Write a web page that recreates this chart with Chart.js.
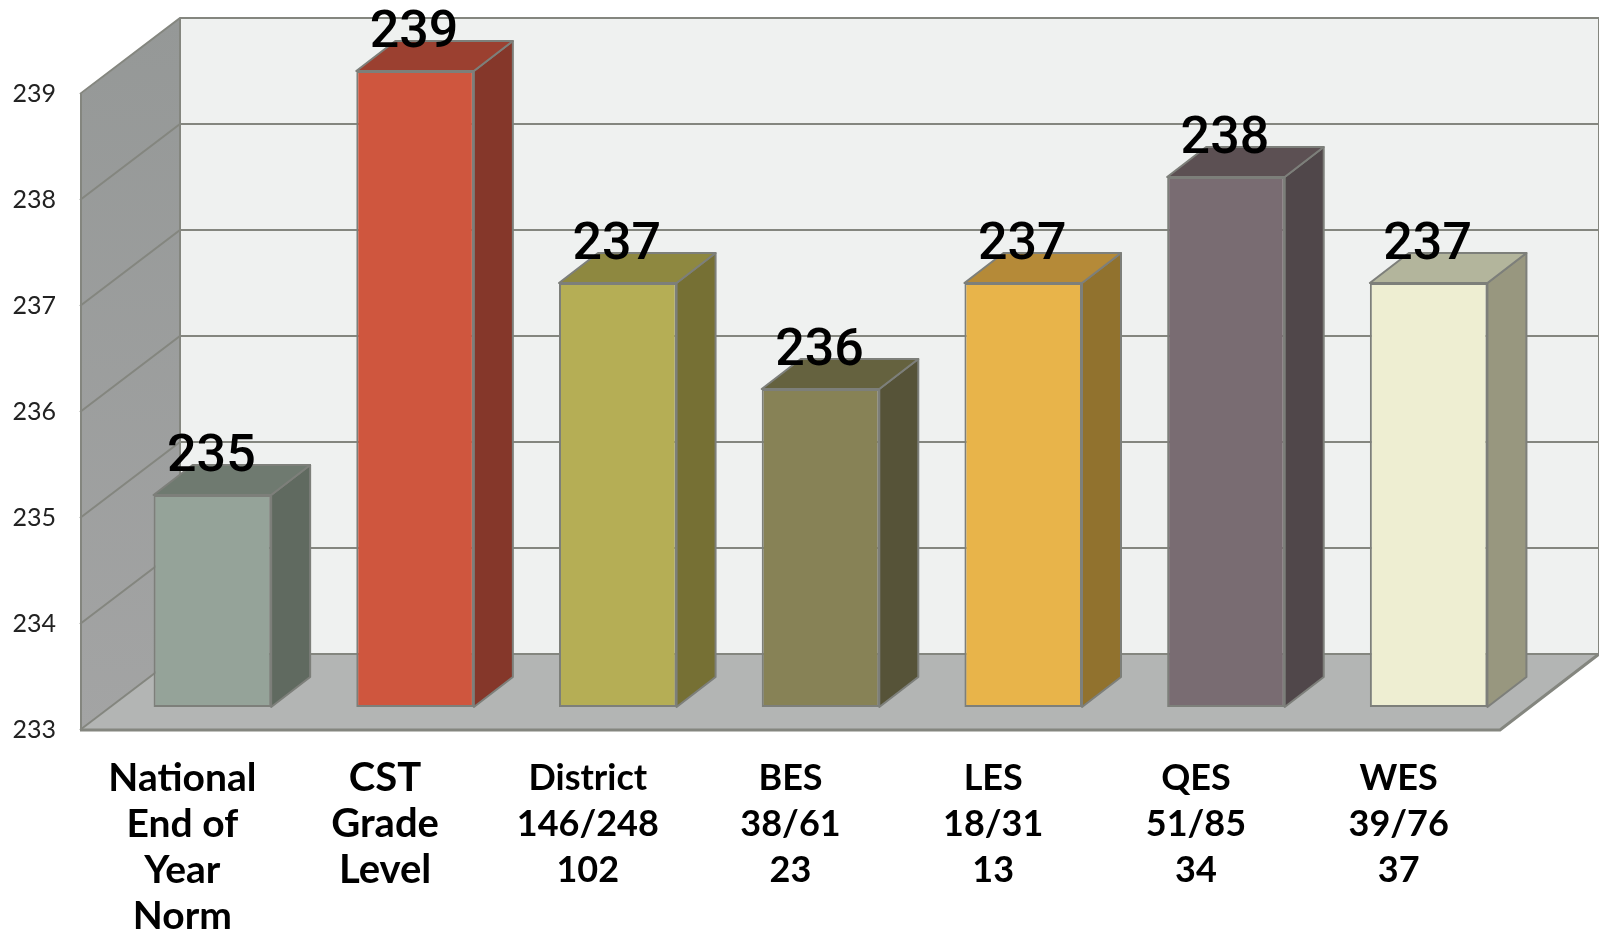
<!DOCTYPE html>
<html><head><meta charset="utf-8">
<style>html,body{margin:0;padding:0;background:#fff}canvas{display:block}</style>
<script src="https://cdn.jsdelivr.net/npm/chart.js@4/dist/chart.umd.min.js"></script>
</head><body><canvas id="c" width="1599" height="930"></canvas>
<script>
const categories = [
  ["National","End of","Year","Norm"],
  ["CST","Grade","Level"],
  ["District","146/248","102"],
  ["BES","38/61","23"],
  ["LES","18/31","13"],
  ["QES","51/85","34"],
  ["WES","39/76","37"]
];
const values = [235,239,237,236,237,238,237];
const yTicks = [233,234,235,236,237,238,239];
const labelSizes = [39,40,36,36,36,36,36];
const frontColors = ["#95a399","#cf563e","#b5ae55","#878256","#e8b44a","#796c72","#eeeed2"];
const sideColors  = ["#606a60","#85372a","#767034","#565338","#91722e","#50474a","#98977f"];
const topColors   = ["#6f7a70","#9b4030","#8e8840","#65623f","#b58a38","#5c5053","#b3b59c"];

const WALL_DX = 99, WALL_DY = 76;      // depth of the plot box
const BAR_DX = 30, BAR_DY = 23;        // bar front face inset from front of box
const DEPTH_DX = 39, DEPTH_DY = 30;    // bar depth
const EDGE = "#7d7f7a";

const poly = (ctx, pts, fill, stroke, lw) => {
  ctx.beginPath();
  pts.forEach((p,i)=> i ? ctx.lineTo(p[0],p[1]) : ctx.moveTo(p[0],p[1]));
  ctx.closePath();
  if (fill) { ctx.fillStyle = fill; ctx.fill(); }
  if (stroke) { ctx.strokeStyle = stroke; ctx.lineWidth = lw || 2; ctx.lineJoin='round'; ctx.stroke(); }
};

const box3d = {
  id: 'box3d',
  beforeDatasetsDraw(chart) {
    const {ctx, chartArea:a, scales:{y}} = chart;
    const L=a.left, R=a.right, T=y.getPixelForValue(239), B=y.getPixelForValue(233);
    ctx.save();
    poly(ctx, [[L+WALL_DX,T-WALL_DY],[R+WALL_DX,T-WALL_DY],[R+WALL_DX,B-WALL_DY],[L+WALL_DX,B-WALL_DY]], "#eff1f0");
    const g = ctx.createLinearGradient(0,T-WALL_DY,0,B);
    g.addColorStop(0,"#959897"); g.addColorStop(1,"#a3a4a4");
    poly(ctx, [[L,T],[L+WALL_DX,T-WALL_DY],[L+WALL_DX,B-WALL_DY],[L,B]], g);
    poly(ctx, [[L,B],[L+WALL_DX,B-WALL_DY],[R+WALL_DX,B-WALL_DY],[R,B]], "#b3b5b4");
    ctx.strokeStyle = "#84867f"; ctx.lineWidth = 2;
    yTicks.forEach(v=>{
      const py = y.getPixelForValue(v);
      ctx.beginPath();
      ctx.moveTo(L-1,py); ctx.lineTo(L+WALL_DX,py-WALL_DY); ctx.lineTo(R+WALL_DX,py-WALL_DY);
      ctx.stroke();
    });
    ctx.beginPath();
    ctx.moveTo(L+WALL_DX,T-WALL_DY); ctx.lineTo(L+WALL_DX,B-WALL_DY); ctx.stroke();
    ctx.beginPath();
    ctx.moveTo(R+WALL_DX,T-WALL_DY); ctx.lineTo(R+WALL_DX,B-WALL_DY); ctx.stroke();
    ctx.lineWidth = 3; ctx.beginPath();
    ctx.moveTo(L-1,B); ctx.lineTo(R,B); ctx.lineTo(R+WALL_DX,B-WALL_DY); ctx.stroke();
    ctx.lineWidth = 2; ctx.beginPath();
    ctx.moveTo(L,T); ctx.lineTo(L,B); ctx.stroke();
    ctx.restore();
  },
  beforeDatasetDraw(chart, args) {
    const ctx = chart.ctx;
    ctx.save();
    ctx.translate(BAR_DX, -BAR_DY);
    args.meta.data.forEach((el,i)=>{
      const l=el.x-el.width/2, r=el.x+el.width/2, t=el.y, b=el.base;
      poly(ctx, [[r,t],[r+DEPTH_DX,t-DEPTH_DY],[r+DEPTH_DX,b-DEPTH_DY],[r,b]], sideColors[i], EDGE, 2);
      poly(ctx, [[l,t],[l+DEPTH_DX,t-DEPTH_DY],[r+DEPTH_DX,t-DEPTH_DY],[r,t]], topColors[i], EDGE, 2);
    });
  },
  afterDatasetDraw(chart) { chart.ctx.restore(); },
  afterDatasetsDraw(chart) {
    const ctx = chart.ctx;
    const meta = chart.getDatasetMeta(0);
    ctx.save();
    ctx.fillStyle = "#000";
    ctx.font = "500 52px Roboto";
    ctx.textAlign = "center";
    ctx.textBaseline = "alphabetic";
    meta.data.forEach((el,i)=>{
      ctx.fillText(String(values[i]), el.x + BAR_DX - 1, el.y - BAR_DY - 24);
    });
    ctx.restore();
  }
};

new Chart(document.getElementById('c'), {
  type: 'bar',
  data: { labels: categories, datasets: [{
    data: values,
    base: 233,
    backgroundColor: frontColors,
    borderColor: EDGE,
    borderWidth: 2,
    borderSkipped: false,
    barPercentage: 0.58,
    categoryPercentage: 1,
    clip: false
  }]},
  plugins: [box3d],
  options: {
    responsive: false,
    animation: false,
    events: [],
    layout: { padding: { top: 94, right: 99, left: 0, bottom: 0 } },
    plugins: { legend: {display:false}, tooltip: {enabled:false}, title:{display:false} },
    scales: {
      x: {
        grid: {display:false, drawTicks:false},
        border: {display:false},
        afterFit(s){ s.height = 200; },
        ticks: {
          autoSkip:false, maxRotation:0, minRotation:0, padding: 25, color:"#000",
          font: c => ({family:"Lato", weight:"bold", size: labelSizes[c.index] || 36, lineHeight:"46px"})
        }
      },
      y: {
        min: 233, max: 239,
        grid: {display:false, drawTicks:false},
        border: {display:false},
        afterFit(s){ s.width = 81; },
        afterBuildTicks(s){ s.ticks = yTicks.map(v=>({value:v})); },
        ticks: {
          padding: 25, color:"#222",
          font: {family:"Lato", weight:"normal", size:25}
        }
      }
    }
  }
});
</script></body></html>
